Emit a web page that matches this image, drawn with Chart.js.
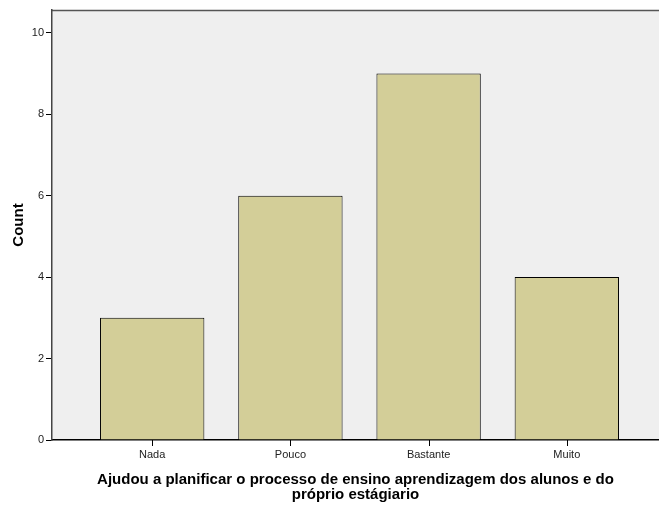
<!DOCTYPE html>
<html>
<head>
<meta charset="utf-8">
<script src="https://cdn.jsdelivr.net/npm/chart.js@4/dist/chart.umd.min.js"></script>
<style>
  html, body { margin: 0; padding: 0; background: #ffffff; }
  #wrap { width: 659px; height: 508px; }
</style>
</head>
<body>
<div id="wrap"><canvas id="chart" width="659" height="508"></canvas></div>
<script>
// categories and counts
const categories = ["Nada", "Pouco", "Bastante", "Muito"];
const counts = [3, 6, 9, 4];
const yTicks = [0, 2, 4, 6, 8, 10];

const xTitle = ["Ajudou a planificar o processo de ensino aprendizagem dos alunos e do", "próprio estágiario"];
const yTitle = "Count";

// bars sit on a linear x scale so the plot can be wider than the categories
const points = counts.map((c, i) => ({ x: i + 1, y: c }));

//paints the grey plot area and its top edge
const plotBg = {
  id: "plotBg",
  beforeDraw(chart) {
    const { ctx, chartArea: a } = chart;
    ctx.save();
    ctx.fillStyle = "#efefef";
    ctx.fillRect(a.left, a.top, a.right - a.left, a.bottom - a.top);
    ctx.strokeStyle = "#555555";
    ctx.lineWidth = 1.5;
    ctx.beginPath();
    ctx.moveTo(a.left, a.top + 0.5);
    ctx.lineTo(a.right, a.top + 0.5);
    ctx.stroke();
    ctx.restore();
  },
  //small tick marks under each category
  afterDraw(chart) {
    const { ctx, chartArea: a } = chart;
    const xs = chart.scales.x;
    ctx.save();
    ctx.strokeStyle = "#000000";
    ctx.lineWidth = 1;
    categories.forEach((_, i) => {
      const px = Math.round(xs.getPixelForValue(i + 1)) + 0.5;
      ctx.beginPath();
      ctx.moveTo(px, a.bottom);
      ctx.lineTo(px, a.bottom + 6);
      ctx.stroke();
    });
    ctx.restore();
  }
};

new Chart(document.getElementById("chart"), {
  type: "bar",
  plugins: [plotBg],
  data: {
    datasets: [{
      data: points,
      backgroundColor: "#d3ce98",
      borderColor: "#000000",
      borderWidth: 1,
      categoryPercentage: 0.755,
      barPercentage: 1
    }]
  },
  options: {
    responsive: false,
    animation: false,
    layout: { padding: { top: 10, right: 0, left: 0, bottom: 0 } },
    plugins: { legend: { display: false }, tooltip: { enabled: false } },
    scales: {
      x: {
        type: "linear",
        offset: false,
        min: 0.275,
        max: 4.667,
        afterBuildTicks: (s) => { s.ticks = categories.map((_, i) => ({ value: i + 1 })); },
        afterFit: (s) => { s.height = 68; },
        grid: { display: false },
        border: { display: true, color: "#000000", width: 1.5 },
        ticks: {
          callback: (v) => categories[v - 1] || "",
          color: "#222222",
          font: { family: "Liberation Sans, Arial, sans-serif", size: 11 },
          padding: 0,
          maxRotation: 0,
          autoSkip: false
        },
        title: {
          display: true,
          text: xTitle,
          color: "#000000",
          font: { family: "Liberation Sans, Arial, sans-serif", size: 15, weight: "bold", lineHeight: 1.0 },
          padding: { top: 4, bottom: 6 }
        }
      },
      y: {
        min: 0,
        max: 10.56,
        afterBuildTicks: (s) => { s.ticks = yTicks.map((v) => ({ value: v })); },
        afterFit: (s) => { s.width = 52; },
        grid: { display: true, drawOnChartArea: false, drawTicks: true, tickLength: 6, color: "#000000", tickColor: "#000000" },
        border: { display: true, color: "#444444", width: 1.5 },
        ticks: {
          color: "#222222",
          font: { family: "Liberation Sans, Arial, sans-serif", size: 11 },
          padding: 2
        },
        title: {
          display: true,
          text: yTitle,
          color: "#000000",
          font: { family: "Liberation Sans, Arial, sans-serif", size: 15, weight: "bold" },
          padding: { top: 10, bottom: 2 }
        }
      }
    }
  }
});
</script>
</body>
</html>
